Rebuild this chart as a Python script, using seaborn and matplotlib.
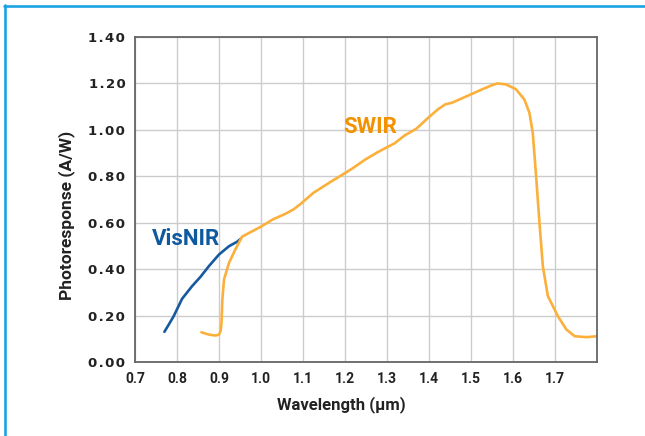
import pandas as pd
import matplotlib.pyplot as plt
import seaborn as sns
from matplotlib import font_manager
from matplotlib.lines import Line2D

# --- data ---
visnir_wl = [0.770, 0.780, 0.792, 0.812, 0.836, 0.856, 0.876, 0.900, 0.924, 0.944, 0.952]
visnir_resp = [0.130, 0.160, 0.197, 0.272, 0.327, 0.367, 0.413, 0.463, 0.499, 0.519, 0.531]

swir_wl = [0.858, 0.876, 0.892, 0.900, 0.904, 0.906, 0.908, 0.912, 0.924, 0.939,
           0.955, 0.980, 1.000, 1.028, 1.060, 1.077, 1.093, 1.125, 1.165, 1.201,
           1.217, 1.249, 1.278, 1.302, 1.318, 1.342, 1.370, 1.398, 1.423, 1.439,
           1.455, 1.495, 1.527, 1.551, 1.563, 1.583, 1.607, 1.627, 1.639, 1.647,
           1.655, 1.663, 1.671, 1.683, 1.707, 1.727, 1.747, 1.775, 1.800]
swir_resp = [0.128, 0.118, 0.114, 0.118, 0.135, 0.170, 0.270, 0.356, 0.428, 0.485,
             0.540, 0.564, 0.583, 0.614, 0.640, 0.657, 0.679, 0.729, 0.775, 0.815,
             0.833, 0.873, 0.904, 0.927, 0.942, 0.976, 1.005, 1.052, 1.091, 1.110,
             1.117, 1.149, 1.175, 1.193, 1.200, 1.196, 1.175, 1.131, 1.074, 0.988,
             0.801, 0.600, 0.413, 0.284, 0.197, 0.140, 0.111, 0.107, 0.111]

x_ticks = [0.7, 0.8, 0.9, 1.0, 1.1, 1.2, 1.3, 1.4, 1.5, 1.6, 1.7]
y_ticks = [0.0, 0.2, 0.4, 0.6, 0.8, 1.0, 1.2, 1.4]

VISNIR_LINE = "#17599f"
VISNIR_TEXT = "#0f5a9e"
SWIR_LINE = "#fbb03b"
SWIR_TEXT = "#f39200"
FRAME = "#1ba3e3"


def pick(*names):
    installed = {f.name for f in font_manager.fontManager.ttflist}
    return [n for n in names if n in installed] + ["DejaVu Sans"]


narrow = pick("Liberation Sans Narrow", "Roboto")
roboto = pick("Roboto", "Liberation Sans")

sns.set_theme(style="white")
plt.rcParams["font.family"] = ["DejaVu Sans"]

fig = plt.figure(figsize=(6.45, 4.36), dpi=100)
ax = fig.add_axes([135 / 645, 1 - 362 / 436, 462 / 645, 325 / 436])

df = pd.concat([
    pd.DataFrame({"wl": visnir_wl, "resp": visnir_resp, "band": "VisNIR"}),
    pd.DataFrame({"wl": swir_wl, "resp": swir_resp, "band": "SWIR"}),
])
sns.lineplot(data=df, x="wl", y="resp", hue="band", sort=False, estimator=None,
             palette={"VisNIR": VISNIR_LINE, "SWIR": SWIR_LINE},
             linewidth=1.9, legend=False, ax=ax)

ax.set_xlim(0.7, 1.8)
ax.set_ylim(0, 1.4)
ax.set_xticks(x_ticks)
ax.set_xticklabels([f"{v:.1f}" for v in x_ticks], family=roboto,
                   fontweight="bold", fontsize=10, color="#222222")
ax.set_yticks(y_ticks)
ax.set_yticklabels(["\u200a".join(f"{v:.2f}") for v in y_ticks],
                   fontweight="bold", fontsize=9.5, color="#222222")
ax.tick_params(axis="both", direction="out", length=4, width=1,
               color="#cccccc", pad=3)

ax.grid(True, color="#cccccc", linewidth=1)
for s in ax.spines.values():
    s.set_color("#666666")
    s.set_linewidth(1.3)

ax.set_xlabel("Wavelength (\u03bcm)", family=narrow, fontweight="bold",
              fontsize=12, color="#222222")
ax.xaxis.set_label_coords(0.446, -0.105)
ax.set_ylabel("Photoresponse (A/W)", family=roboto, fontweight="bold",
              fontsize=12.5, color="#222222")
ax.yaxis.set_label_coords(-0.13, 0.45)

ax.text(0.8205, 0.528, "VisNIR", family=narrow, fontweight="bold",
        fontsize=16, color=VISNIR_TEXT, ha="center", va="center")
ax.text(1.261, 1.011, "SWIR", family=narrow, fontweight="bold",
        fontsize=16, color=SWIR_TEXT, ha="center", va="center")

# light blue frame (top and left edges only)
fig.add_artist(Line2D([4 / 645, 1], [1 - 6 / 436, 1 - 6 / 436],
                      transform=fig.transFigure, color=FRAME, linewidth=1.9))
fig.add_artist(Line2D([5 / 645, 5 / 645], [0, 1 - 5 / 436],
                      transform=fig.transFigure, color=FRAME, linewidth=1.9))

fig.savefig("out.png", dpi=100)
plt.close(fig)
